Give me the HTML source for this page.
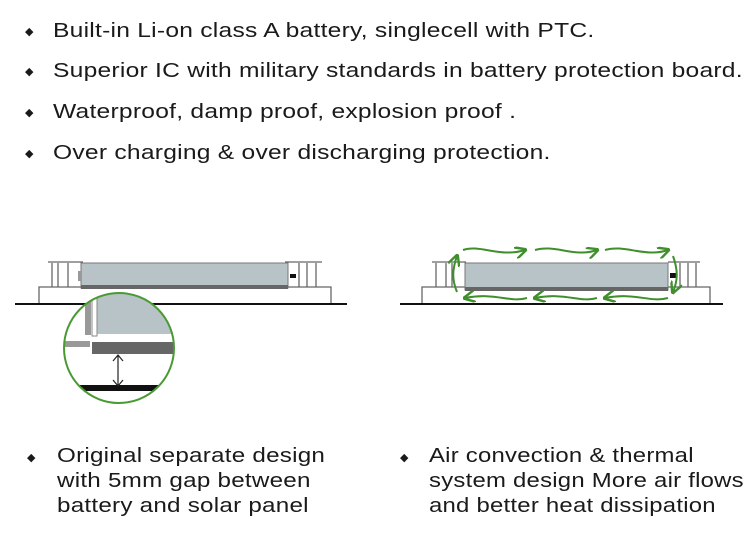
<!DOCTYPE html><html><head><style>
body{margin:0;width:750px;height:544px;background:#fff;overflow:hidden;font-family:"Liberation Sans",sans-serif;color:#1a1a1a}
.t{position:absolute;font-size:20px;white-space:nowrap;letter-spacing:0.2px;transform-origin:0 0;transform:scaleX(1.23)}
.u{transform:scaleX(1.21)}
.v{transform:scaleX(1.195)}
.b{position:absolute;font-size:11px}
</style></head><body>
<div class="b" style="left:25px;top:25px">◆</div><div class="t" style="left:53px;top:20px">Built-in Li-on class A battery, singlecell with PTC.</div>
<div class="b" style="left:25px;top:65px">◆</div><div class="t" style="left:53px;top:60px">Superior IC with military standards in battery protection board.</div>
<div class="b" style="left:25px;top:106px">◆</div><div class="t" style="left:53px;top:101px">Waterproof, damp proof, explosion proof .</div>
<div class="b" style="left:25px;top:147px">◆</div><div class="t" style="left:53px;top:142px">Over charging &amp; over discharging protection.</div>
<div class="b" style="left:27px;top:451px">◆</div><div class="t u" style="left:57px;top:444px;line-height:25px">Original separate design<br>with 5mm gap between<br>battery and solar panel</div>
<div class="b" style="left:400px;top:451px">◆</div><div class="t v" style="left:429px;top:444px;line-height:25px">Air convection &amp; thermal<br>system design More air flows<br>and better heat dissipation</div>
<svg width="750" height="544" style="position:absolute;left:0;top:0">
<defs><clipPath id="c"><circle cx="119" cy="348" r="55"/></clipPath>
<marker id="a" markerWidth="6" markerHeight="6" refX="5" refY="3" orient="auto"><path d="M0,0 L6,3 L0,6" fill="none" stroke="#3f8f2c" stroke-width="1.2"/></marker></defs>
<g fill="none" stroke="#666" stroke-width="1.3">
<path d="M39,304 V287 H81 M288,287 H331 V304"/>
<path d="M48,262 H83 M285,262 H322 M52,263 V287 M58,263 V287 M68,263 V287 M299,263 V287 M307,263 V287 M316,263 V287"/>
<path d="M422,304 V287 H465 M668,287 H710 V304"/>
<path d="M432,262 H466 M668,262 H700 M436,263 V287 M446,263 V287 M452,263 V287 M680,263 V287 M688,263 V287 M696,263 V287"/>
</g>
<rect x="81" y="263" width="207" height="25" fill="#b8c3c7" stroke="#777"/><rect x="81" y="285" width="207" height="4" fill="#666"/>
<rect x="78" y="271" width="4" height="10" fill="#999"/><rect x="290" y="274" width="6" height="4" fill="#111"/>
<rect x="465" y="263" width="203" height="27" fill="#b8c3c7" stroke="#777"/><rect x="465" y="287" width="203" height="4" fill="#666"/>
<rect x="670" y="273" width="6" height="5" fill="#111"/>
<line x1="15" y1="304" x2="347" y2="304" stroke="#111" stroke-width="2"/>
<line x1="400" y1="304" x2="723" y2="304" stroke="#111" stroke-width="2"/>
<g clip-path="url(#c)">
<rect x="50" y="290" width="150" height="130" fill="#fff"/>
<rect x="96" y="290" width="110" height="44" fill="#b8c3c7"/><rect x="92" y="290" width="5" height="46" fill="#fff" stroke="#888"/>
<rect x="85" y="295" width="6" height="40" fill="#999"/>
<rect x="92" y="342" width="120" height="12" fill="#666"/>
<rect x="60" y="341" width="30" height="6" fill="#999"/>
<rect x="50" y="385" width="150" height="6" fill="#111"/>
<path d="M118,356 V385 M113,361 L118,355 L123,361 M113,380 L118,386 L123,380" fill="none" stroke="#222" stroke-width="1.2"/>
</g>
<circle cx="119" cy="348" r="55" fill="none" stroke="#4a9a34" stroke-width="2"/>
<g fill="none" stroke="#3f8f2c" stroke-width="2" marker-end="url(#a)">
<path d="M463,250 C480,244 500,258 525,250"/>
<path d="M535,250 C555,244 575,258 597,250"/>
<path d="M605,250 C625,244 645,258 668,250"/>
<path d="M527,298 C510,303 495,292 465,298"/>
<path d="M597,298 C580,303 565,292 535,298"/>
<path d="M668,298 C650,303 635,292 605,298"/>
<path d="M457,292 C452,280 452,270 457,256"/>
<path d="M673,256 C678,270 678,280 673,292"/>
</g>
</svg>
</body></html>
